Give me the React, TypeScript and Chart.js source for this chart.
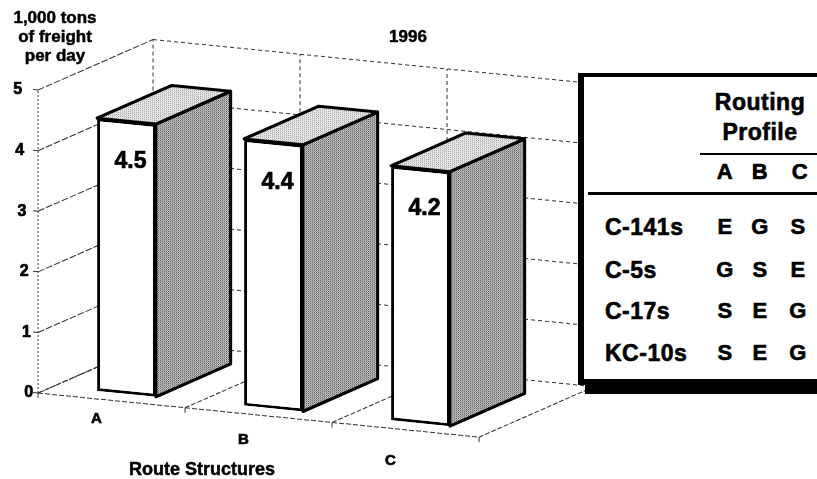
import React, { useEffect, useRef } from "react";
import { Chart, registerables } from "chart.js";

Chart.register(...registerables);

// ---- data ----
const categories = ["A", "B", "C"];
const freightValues = [4.5, 4.4, 4.2];
const yTicks = [0, 1, 2, 3, 4, 5];
const chartTitle = "1996";
const yTitleLines = ["1,000 tons", "of freight", "per day"];
const xTitle = "Route Structures";
const profileHeaderLines = ["Routing", "Profile"];
const profileColumns = ["A", "B", "C"];
const aircraft = ["C-141s", "C-5s", "C-17s", "KC-10s"];
const profileC141 = ["E", "G", "S"];
const profileC5 = ["G", "S", "E"];
const profileC17 = ["S", "E", "G"];
const profileKC10 = ["S", "E", "G"];
const profileRows = [profileC141, profileC5, profileC17, profileKC10];

// ---- geometry / style ----
const FONT = "'Liberation Sans', Arial, Helvetica, sans-serif";
const SKEW = 0.1;
const PIVOT = 38;
const DX = 115;
const DY = -62;
const T0 = 0.13;
const T1 = 0.78;

type Pt = [number, number];

function makePattern(ctx: CanvasRenderingContext2D, colors: string[][]) {
  const c = document.createElement("canvas");
  c.width = colors[0].length;
  c.height = colors.length;
  const g = c.getContext("2d")!;
  colors.forEach((row, y) =>
    row.forEach((col, x) => {
      g.fillStyle = col;
      g.fillRect(x, y, 1, 1);
    })
  );
  return ctx.createPattern(c, "repeat")!;
}

function seg(ctx: CanvasRenderingContext2D, a: Pt, b: Pt, dash: number[]) {
  ctx.setLineDash(dash);
  ctx.beginPath();
  ctx.moveTo(a[0], a[1]);
  ctx.lineTo(b[0], b[1]);
  ctx.stroke();
}

function poly(ctx: CanvasRenderingContext2D, pts: Pt[], fill: CanvasPattern | string) {
  ctx.beginPath();
  ctx.moveTo(pts[0][0], pts[0][1]);
  for (let i = 1; i < pts.length; i++) ctx.lineTo(pts[i][0], pts[i][1]);
  ctx.closePath();
  ctx.fillStyle = fill;
  ctx.fill();
  ctx.setLineDash([]);
  ctx.lineWidth = 3;
  ctx.lineJoin = "round";
  ctx.strokeStyle = "#000";
  ctx.stroke();
}

function heavyText(ctx: CanvasRenderingContext2D, s: string, x: number, y: number) {
  ctx.fillText(s, x, y);
  ctx.strokeText(s, x, y);
}

const sk = (x: number, y: number): Pt => [x, y + SKEW * (x - PIVOT)];

const threeD = {
  id: "threeD",
  beforeDraw(chart: any) {
    const ctx = chart.ctx as CanvasRenderingContext2D;
    ctx.save();
    ctx.transform(1, SKEW, 0, 1, 0, -SKEW * PIVOT);
  },
  beforeDatasetsDraw(chart: any) {
    const ctx = chart.ctx as CanvasRenderingContext2D;
    const xs = chart.scales.x;
    const ys = chart.scales.y;
    const n = categories.length;
    const front = (x: number, v: number): Pt => [x - T0 * DX, ys.getPixelForValue(v) - T0 * DY];
    const back = (x: number, v: number): Pt => [x + (1 - T0) * DX, ys.getPixelForValue(v) + (1 - T0) * DY];
    const left = xs.getPixelForValue(-0.5);
    const right = xs.getPixelForValue(n - 0.5);
    const top = yTicks[yTicks.length - 1];
    ctx.save();
    ctx.strokeStyle = "#333";
    ctx.lineWidth = 1;
    // left wall grid
    yTicks.forEach((v) => seg(ctx, front(left, v), back(left, v), [7, 2]));
    // back wall horizontals
    yTicks.forEach((v) => seg(ctx, back(left, v), back(right, v), [4, 3]));
    // back wall verticals at category boundaries
    for (let i = 0; i <= n; i++) {
      const b = xs.getPixelForValue(i - 0.5);
      seg(ctx, back(b, 0), back(b, top), [4, 3]);
    }
    // front axis
    seg(ctx, front(left, 0), front(left, top), [2, 2]);
    // axis ticks
    yTicks.forEach((v) => {
      const p = front(left, v);
      seg(ctx, p, [p[0] - 5, p[1]], []);
    });
    // floor
    seg(ctx, front(left, 0), front(right, 0), [5, 2]);
    for (let i = 0; i <= n; i++) {
      const b = xs.getPixelForValue(i - 0.5);
      seg(ctx, front(b, 0), back(b, 0), [5, 2]);
      const p = front(b, 0);
      seg(ctx, p, [p[0], p[1] + 5], []);
    }
    ctx.restore();
  },
  afterDatasetsDraw(chart: any) {
    const ctx = chart.ctx as CanvasRenderingContext2D;
    const sidePat = makePattern(ctx, [
      ["#4a4a4a", "#d2d2d2"],
      ["#d2d2d2", "#8a8a8a"],
    ]);
    const topPat = makePattern(ctx, [
      ["#9a9a9a", "#f0f0f0"],
      ["#f0f0f0", "#d8d8d8"],
    ]);
    const bdx = (T1 - T0) * DX;
    const bdy = (T1 - T0) * DY;
    const meta = chart.getDatasetMeta(0);
    ctx.save();
    meta.data.forEach((el: any) => {
      const { x, y, base, width } = el.getProps(["x", "y", "base", "width"], true);
      const l = x - width / 2;
      const r = x + width / 2;
      poly(ctx, [[r, y], [r, base], [r + bdx, base + bdy], [r + bdx, y + bdy]], sidePat);
      poly(ctx, [[l, y], [r, y], [r + bdx, y + bdy], [l + bdx, y + bdy]], topPat);
    });
    ctx.restore();
  },
  afterDraw(chart: any) {
    const ctx = chart.ctx as CanvasRenderingContext2D;
    ctx.restore();
    const xs = chart.scales.x;
    const ys = chart.scales.y;
    ctx.save();
    ctx.fillStyle = "#000";
    ctx.strokeStyle = "#000";
    ctx.lineWidth = 0.7;
    ctx.lineJoin = "round";
    ctx.setLineDash([]);
    ctx.textBaseline = "middle";
    // value labels
    ctx.textAlign = "center";
    ctx.font = `bold 23px ${FONT}`;
    const meta = chart.getDatasetMeta(0);
    meta.data.forEach((el: any, i: number) => {
      const { x, y } = el.getProps(["x", "y"], true);
      const p = sk(x + 4, y + 40);
      heavyText(ctx, freightValues[i].toFixed(1), p[0], p[1]);
    });
    // y tick labels
    ctx.textAlign = "right";
    ctx.font = `bold 16px ${FONT}`;
    const left = xs.getPixelForValue(-0.5) - T0 * DX;
    yTicks.forEach((v) => {
      const p = sk(left, ys.getPixelForValue(v) - T0 * DY);
      heavyText(ctx, String(v), p[0] - 16 + 2.2 * (yTicks.length - 1 - v), p[1]);
    });
    // category labels
    ctx.textAlign = "center";
    ctx.font = `bold 15px ${FONT}`;
    const floorY = ys.getPixelForValue(0) - T0 * DY;
    categories.forEach((c, i) => {
      const cx = xs.getPixelForValue(i) - 30;
      heavyText(ctx, c, cx, floorY + 0.14 * (cx - PIVOT) + 18);
    });
    // titles
    ctx.lineWidth = 0.5;
    ctx.font = `bold 17px ${FONT}`;
    yTitleLines.forEach((t, i) => heavyText(ctx, t, 55, 18 + i * 19));
    heavyText(ctx, chartTitle, 408, 37);
    ctx.font = `bold 18px ${FONT}`;
    heavyText(ctx, xTitle, 202, 470);
    ctx.restore();
  },
};

const txt = (
  s: string,
  x: number,
  y: number,
  size: number,
  align: "center" | "left" = "center"
): React.ReactElement => (
  <span
    key={`${s}-${x}-${y}`}
    style={{
      position: "absolute",
      left: x,
      top: y,
      transform: align === "center" ? "translate(-50%, -50%)" : "translate(0, -50%)",
      font: `bold ${size}px ${FONT}`,
      letterSpacing: "0.5px",
      lineHeight: 1,
      whiteSpace: "nowrap",
      color: "#000",
      WebkitTextStroke: "0.6px #000",
    } as React.CSSProperties}
  >
    {s}
  </span>
);

export default function App() {
  const ref = useRef<HTMLCanvasElement>(null);

  useEffect(() => {
    if (!ref.current) return;
    Chart.defaults.font.family = FONT;
    const chart = new Chart(ref.current, {
      type: "bar",
      data: {
        labels: categories,
        datasets: [
          {
            data: freightValues,
            backgroundColor: "#ffffff",
            borderColor: "#000000",
            borderWidth: 3,
            borderSkipped: false,
            barPercentage: 0.4,
            categoryPercentage: 1,
            clip: false,
          } as any,
        ],
      },
      options: {
        responsive: false,
        animation: false,
        events: [],
        layout: { padding: { left: 53, right: 323, top: 82, bottom: 94 } },
        plugins: { legend: { display: false }, tooltip: { enabled: false } },
        scales: {
          x: { display: false },
          y: { display: false, min: 0, max: 5 },
        },
      },
      plugins: [threeD as any],
    });
    return () => chart.destroy();
  }, []);

  const colX = [725, 760, 798];
  const rowY = [227, 270, 311, 353];

  return (
    <div
      style={{
        position: "fixed",
        left: 0,
        top: 0,
        width: 817,
        height: 479,
        overflow: "hidden",
        background: "#fff",
      }}
    >
      <canvas ref={ref} width={817} height={479} style={{ position: "absolute", left: 0, top: 0 }} />
      {/* table box */}
      <div
        style={{
          position: "absolute",
          left: 578,
          top: 73,
          width: 260,
          height: 302,
          background: "#fff",
          borderLeft: "6px solid #000",
          borderTop: "4px solid #000",
          borderBottom: "6px solid #000",
        }}
      />
      <div style={{ position: "absolute", left: 585, top: 385, width: 240, height: 9, background: "#000" }} />
      <div style={{ position: "absolute", left: 700, top: 153, width: 130, height: 2, background: "#000" }} />
      <div style={{ position: "absolute", left: 588, top: 192, width: 240, height: 3, background: "#000" }} />
      {profileHeaderLines.map((s, i) => txt(s, 760, 102 + i * 30, 23))}
      {profileColumns.map((s, i) => txt(s, colX[i] + (i === 2 ? 2 : 0), 172, 22))}
      {aircraft.map((s, r) => txt(s, 605, rowY[r], 23, "left"))}
      {profileRows.map((row, r) => row.map((s, i) => txt(s, colX[i], rowY[r], 22)))}
    </div>
  );
}
